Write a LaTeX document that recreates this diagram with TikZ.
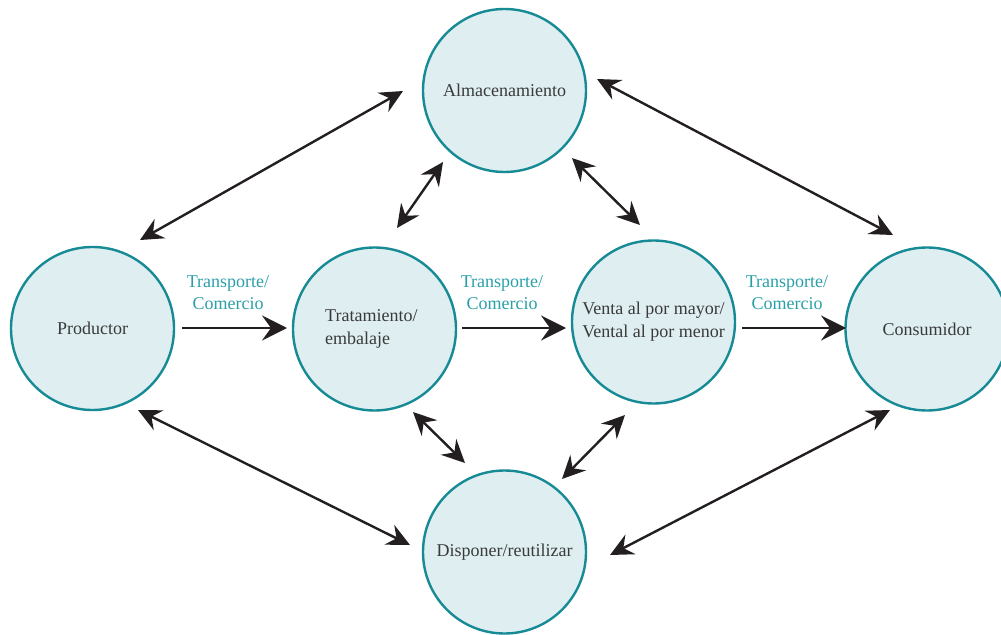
\documentclass[tikz,border=0pt]{standalone}
\usepackage{fontspec}
\setmainfont{Liberation Serif}
\usetikzlibrary{arrows.meta}
\definecolor{ring}{HTML}{178B95}
\definecolor{disc}{HTML}{DEEEF1}
\definecolor{lbl}{HTML}{2A9FA8}
\definecolor{ink}{HTML}{3A3A3A}
\definecolor{arr}{HTML}{231F20}
\begin{document}
\begin{tikzpicture}[x=1bp,y=-1bp,
  stage/.style={circle,draw=ring,fill=disc,line width=2.4bp,minimum size=163bp,inner sep=0pt,
    text=ink,font=\fontsize{18bp}{23bp}\selectfont,align=center},
  flow/.style={line width=2.5bp,draw=arr,-{Stealth[length=25bp,width=25bp,inset=9bp]}},
  both/.style={line width=2.4bp,draw=arr,{Stealth[length=23bp,width=22bp,inset=8bp]}-{Stealth[length=23bp,width=22bp,inset=8bp]}},
  tlabel/.style={text=lbl,font=\fontsize{18bp}{22bp}\selectfont,align=center}]
\useasboundingbox (0,0) rectangle (1001,635);
\node[stage] (alm) at (504.5,90.5) {Almacenamiento};
\node[stage] (prod) at (92.5,328.5) {Productor};
\node[stage] (trat) at (374.5,329) {};
\node[stage] (venta) at (653.5,322) {Venta al por mayor/\\Vental al por menor};
\node[stage] (cons) at (927,329) {Consumidor};
\node[stage] (disp) at (504.5,552) {Disponer/reutilizar};
\node[text=ink,font=\fontsize{18bp}{23bp}\selectfont,align=left,anchor=west,inner sep=0pt] (tratt) at (325,329) {Tratamiento/\\embalaje};
% connector end points
\coordinate (p1) at (182,328); \coordinate (t1) at (287,328);
\coordinate (t2) at (462,328); \coordinate (v1) at (566,328);
\coordinate (v2) at (742,328); \coordinate (c1) at (846,328);
\draw[flow] (p1) -- (t1);
\draw[flow] (t2) -- (v1);
\draw[flow] (v2) -- (c1);
\node[tlabel] (l1) at (228,293) {Transporte/\\Comercio};
\node[tlabel] (l2) at (502,293) {Transporte/\\Comercio};
\node[tlabel] (l3) at (787,293) {Transporte/\\Comercio};
\coordinate (a1) at (140,240); \coordinate (a2) at (403,91);
\coordinate (b1) at (597,79); \coordinate (b2) at (893,235);
\coordinate (c3) at (138,410); \coordinate (c4) at (410,545);
\coordinate (d1) at (610,555); \coordinate (d2) at (890,410);
\coordinate (e1) at (443,162); \coordinate (e2) at (397,228);
\coordinate (f1) at (572,158); \coordinate (f2) at (640,225);
\coordinate (g1) at (413,412); \coordinate (g2) at (465,463);
\coordinate (h1) at (625,415); \coordinate (h2) at (562,479);
\draw[both] (a1) -- (a2);
\draw[both] (b1) -- (b2);
\draw[both] (c3) -- (c4);
\draw[both] (d1) -- (d2);
\draw[both] (e1) -- (e2);
\draw[both] (f1) -- (f2);
\draw[both] (g1) -- (g2);
\draw[both] (h1) -- (h2);
\end{tikzpicture}
\end{document}
